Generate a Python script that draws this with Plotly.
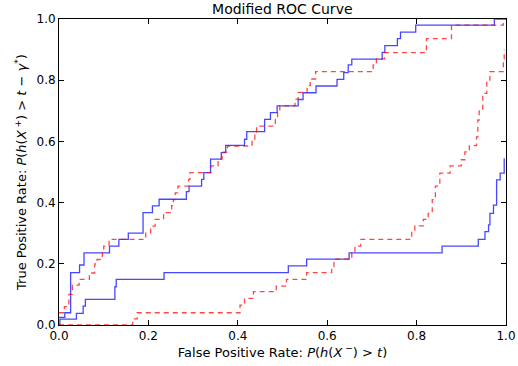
import plotly.graph_objects as go

# Step points (x = FPR where the curve jumps, y = TPR after the jump)
upper_blue_fpr = [0.0, 0.013, 0.026, 0.046, 0.056, 0.113, 0.134, 0.155, 0.188, 0.209, 0.224,
                  0.285, 0.291, 0.319, 0.324, 0.339, 0.363, 0.373, 0.415, 0.42, 0.46, 0.473,
                  0.488, 0.535, 0.546, 0.575, 0.622, 0.637, 0.647, 0.655, 0.723, 0.729, 0.757,
                  0.764, 0.798, 0.974, 1.0]
upper_blue_tpr = [0.025, 0.04, 0.171, 0.196, 0.236, 0.258, 0.28, 0.30, 0.367, 0.389, 0.411,
                  0.436, 0.454, 0.476, 0.498, 0.542, 0.563, 0.587, 0.607, 0.632, 0.672, 0.694,
                  0.716, 0.737, 0.759, 0.781, 0.803, 0.825, 0.85, 0.869, 0.891, 0.913, 0.936,
                  0.957, 0.98, 1.0, 1.0]

upper_red_fpr = [0.0, 0.012, 0.022, 0.03, 0.045, 0.068, 0.08, 0.085, 0.097, 0.1, 0.112,
                 0.194, 0.205, 0.215, 0.234, 0.252, 0.256, 0.26, 0.266, 0.29, 0.293, 0.34,
                 0.356, 0.365, 0.377, 0.432, 0.438, 0.442, 0.484, 0.489, 0.494, 0.528, 0.535,
                 0.555, 0.562, 0.574, 0.703, 0.71, 0.728, 0.822, 0.878, 0.994]
upper_red_tpr = [0.04, 0.06, 0.1, 0.13, 0.149, 0.17, 0.20, 0.214, 0.236, 0.258, 0.28,
                 0.30, 0.323, 0.345, 0.367, 0.39, 0.41, 0.432, 0.454, 0.476, 0.498, 0.52,
                 0.542, 0.565, 0.585, 0.607, 0.63, 0.65, 0.672, 0.694, 0.716, 0.738, 0.76,
                 0.782, 0.804, 0.828, 0.85, 0.87, 0.89, 0.936, 0.98, 1.0]

lower_blue_fpr = [0.0, 0.002, 0.039, 0.054, 0.059, 0.125, 0.128, 0.235, 0.513, 0.554, 0.649,
                  0.857, 0.938, 0.953, 0.961, 0.964, 0.972, 0.979, 0.987, 0.996]
lower_blue_tpr = [0.0, 0.019, 0.038, 0.062, 0.084, 0.125, 0.149, 0.171, 0.193, 0.215, 0.236,
                  0.258, 0.28, 0.305, 0.327, 0.365, 0.392, 0.474, 0.496, 0.545]

lower_red_fpr = [0.0, 0.165, 0.175, 0.405, 0.415, 0.435, 0.486, 0.509, 0.554, 0.61, 0.615,
                 0.655, 0.662, 0.675, 0.789, 0.796, 0.815, 0.826, 0.835, 0.842, 0.852, 0.875,
                 0.9, 0.908, 0.918, 0.934, 0.937, 0.94, 0.948, 0.957, 0.964, 0.994, 0.996]
lower_red_tpr = [0.0, 0.02, 0.04, 0.065, 0.087, 0.109, 0.127, 0.149, 0.171, 0.19, 0.215,
                 0.236, 0.258, 0.28, 0.305, 0.324, 0.345, 0.365, 0.41, 0.454, 0.496, 0.52,
                 0.54, 0.566, 0.586, 0.615, 0.67, 0.7, 0.757, 0.8, 0.828, 0.87, 0.9]

tick_vals = [0.0, 0.2, 0.4, 0.6, 0.8, 1.0]
tick_text = ["0.0", "0.2", "0.4", "0.6", "0.8", "1.0"]

BLUE = dict(color="rgba(0,0,255,0.72)", width=1.3, shape="hv")
RED = dict(color="rgba(255,0,0,0.72)", width=1.3, shape="hv", dash="5px,4px")

fig = go.Figure()
fig.add_trace(go.Scatter(x=upper_blue_fpr, y=upper_blue_tpr, mode="lines", line=BLUE))
fig.add_trace(go.Scatter(x=upper_red_fpr, y=upper_red_tpr, mode="lines", line=RED))
fig.add_trace(go.Scatter(x=lower_blue_fpr, y=lower_blue_tpr, mode="lines", line=BLUE))
fig.add_trace(go.Scatter(x=lower_red_fpr, y=lower_red_tpr, mode="lines", line=RED))

axis_common = dict(
    range=[0, 1], tickvals=tick_vals, ticktext=tick_text, automargin=False,
    showgrid=False, zeroline=False, showline=True, linecolor="black", linewidth=1,
    mirror="ticks", ticks="inside", ticklen=5, tickwidth=1, tickcolor="black",
    tickfont=dict(family="DejaVu Sans", size=12, color="black"),
)

fig.update_layout(
    width=518, height=366,
    margin=dict(l=59, r=12, t=19, b=41),
    paper_bgcolor="white", plot_bgcolor="white",
    showlegend=False,
    font=dict(family="DejaVu Sans", color="black"),
    title=dict(text="Modified ROC Curve", x=0.545, xanchor="center", y=0.975, yanchor="middle",
               font=dict(family="DejaVu Sans", size=14, color="black")),
    xaxis=dict(axis_common,
               title=dict(text="False Positive Rate: <i>P</i>(<i>h</i>(<i>X</i><sup> −</sup>) > <i>t</i>)",
                          font=dict(family="DejaVu Sans", size=13), standoff=4)),
    yaxis=dict(axis_common,
               title=dict(text="True Positive Rate: <i>P</i>(<i>h</i>(<i>X</i><sup> +</sup>) > <i>t</i> − <i>γ</i><sup>*</sup>)",
                          font=dict(family="DejaVu Sans", size=13), standoff=6)),
)

fig.write_html("out.html")
